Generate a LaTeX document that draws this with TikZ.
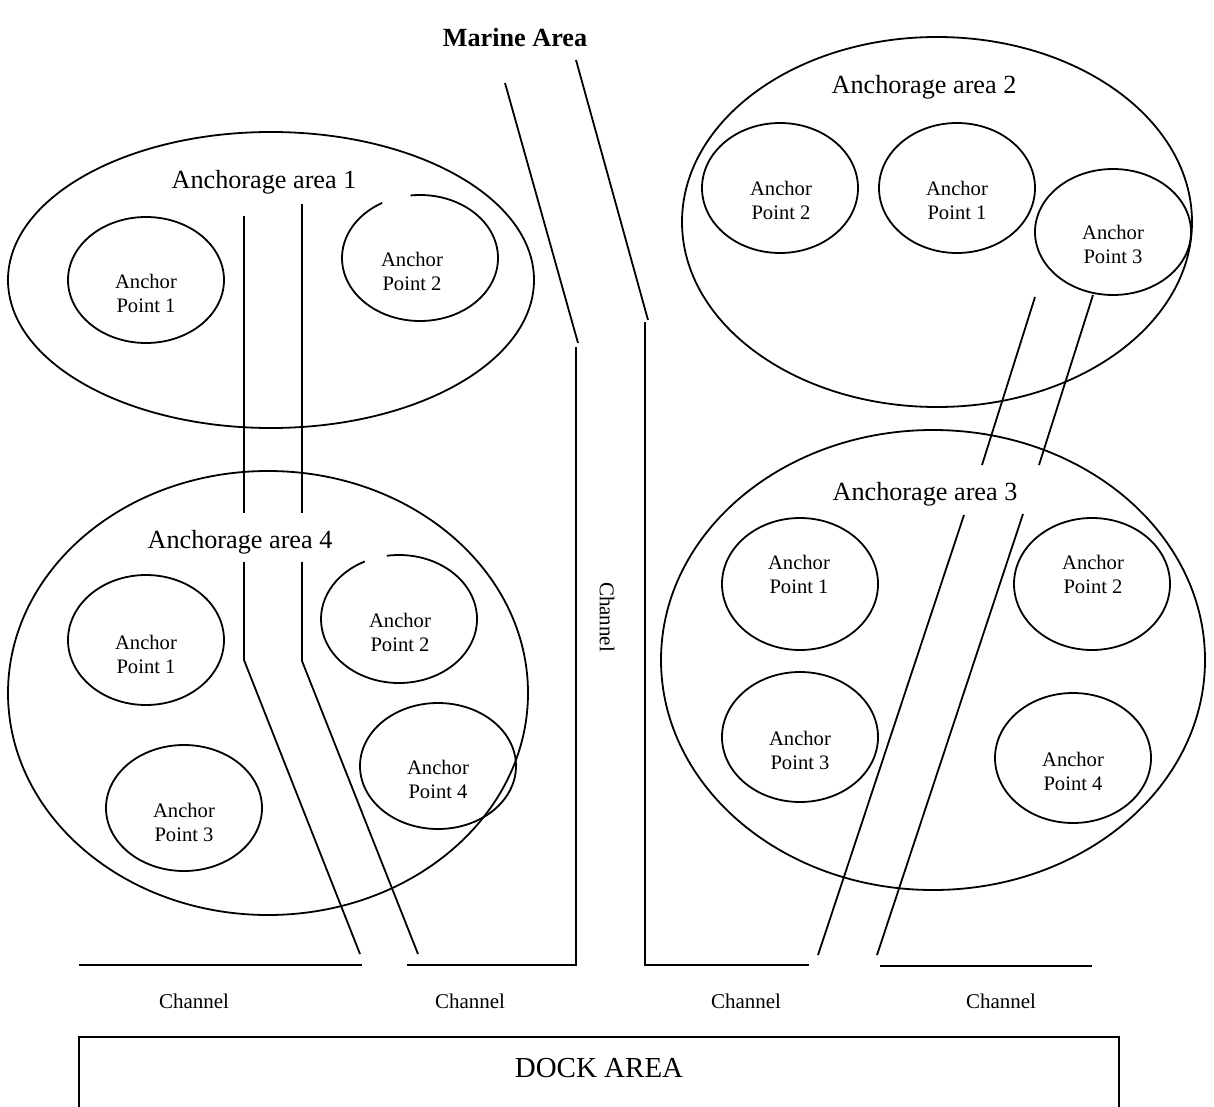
\documentclass[tikz,border=0pt]{standalone}
\usepackage{fontspec}
\setmainfont{Liberation Serif}
\usetikzlibrary{shapes.geometric,calc}

\begin{document}
\begin{tikzpicture}[x=0.5pt,y=-0.5pt,
  line width=0.9pt,
  area/.style={draw, ellipse, inner sep=0pt, outer sep=0pt},
  apt/.style={draw, ellipse, inner sep=0pt, outer sep=0pt, minimum width=78pt, minimum height=63pt},
  apttext/.style={align=center, font=\fontsize{10.3}{12}\selectfont, inner sep=0pt},
  areatext/.style={font=\fontsize{13.1}{15}\selectfont, anchor=base, inner sep=0pt},
  chantext/.style={font=\fontsize{10.5}{12}\selectfont, inner sep=0pt}
]
\useasboundingbox (0,0) rectangle (1214,1107);
\clip (0,0) rectangle (1214,1107);

% ---------- anchorage areas ----------
\node[area, minimum width=263pt, minimum height=148pt] (area1) at (271,280) {};
\node[area, minimum width=260pt, minimum height=222pt] (area4) at (268,693) {};
\node[area, minimum width=255pt, minimum height=185pt] (area2) at (937,222) {};
\node[area, minimum width=272pt, minimum height=230pt] (area3) at (933,660) {};

\node[font=\bfseries\fontsize{13.1}{15}\selectfont, anchor=base, inner sep=0pt] (marine) at (515,47) {Marine Area};
\node[areatext] (area1label) at (264,189) {Anchorage area 1};
\node[areatext] (area2label) at (924,94) {Anchorage area 2};
\node[areatext] (area3label) at (925,500) {Anchorage area 3};
\node[areatext] (area4label) at (240,548) {Anchorage area 4};

% ---------- anchor points, area 1 ----------
\node[apt] (a1p1) at (146,280) {};
\node[apttext] (a1p1t) at (146,293) {Anchor\\Point 1};
\node[apt, draw=none] (a1p2) at (420,258) {};
\draw ($(a1p2)+(263:78 and 63)$) arc[start angle=263, end angle=601, x radius=78, y radius=63];
\node[apttext] (a1p2t) at (412,271) {Anchor\\Point 2};

% ---------- anchor points, area 4 ----------
\node[apt, minimum height=65pt] (a4p1) at (146,640) {};
\node[apttext] (a4p1t) at (146,654) {Anchor\\Point 1};
\node[apt, draw=none, minimum height=64pt] (a4p2) at (399,619) {};
\draw ($(a4p2)+(261:78 and 64)$) arc[start angle=261, end angle=604, x radius=78, y radius=64];
\node[apttext] (a4p2t) at (400,632) {Anchor\\Point 2};
\node[apt] (a4p3) at (184,808) {};
\node[apttext] (a4p3t) at (184,822) {Anchor\\Point 3};
\node[apt] (a4p4) at (438,766) {};
\node[apttext] (a4p4t) at (438,779) {Anchor\\Point 4};

% ---------- anchor points, area 2 ----------
\node[apt, minimum height=65pt] (a2p2) at (780,188) {};
\node[apttext] (a2p2t) at (781,200) {Anchor\\Point 2};
\node[apt, minimum height=65pt] (a2p1) at (957,188) {};
\node[apttext] (a2p1t) at (957,200) {Anchor\\Point 1};
\node[apt] (a2p3) at (1113,232) {};
\node[apttext] (a2p3t) at (1113,244) {Anchor\\Point 3};

% ---------- anchor points, area 3 ----------
\node[apt, minimum height=66pt] (a3p1) at (800,584) {};
\node[apttext] (a3p1t) at (799,574) {Anchor\\Point 1};
\node[apt, minimum height=66pt] (a3p2) at (1092,584) {};
\node[apttext] (a3p2t) at (1093,574) {Anchor\\Point 2};
\node[apt, minimum height=65pt] (a3p3) at (800,737) {};
\node[apttext] (a3p3t) at (800,750) {Anchor\\Point 3};
\node[apt, minimum height=65pt] (a3p4) at (1073,758) {};
\node[apttext] (a3p4t) at (1073,771) {Anchor\\Point 4};

% ---------- fairways through the anchorages ----------
\coordinate (l1a) at (244,216); \coordinate (l1b) at (244,513);
\coordinate (r1a) at (302,204); \coordinate (r1b) at (302,513);
\coordinate (l4a) at (244,562); \coordinate (l4b) at (244,660); \coordinate (l4c) at (360,954);
\coordinate (r4a) at (302,562); \coordinate (r4b) at (302,661); \coordinate (r4c) at (418,954);
\coordinate (l2a) at (1035,297); \coordinate (l2b) at (982,465);
\coordinate (r2a) at (1093,295); \coordinate (r2b) at (1039,465);
\coordinate (l3a) at (964,515); \coordinate (l3b) at (818,955);
\coordinate (r3a) at (1023,514); \coordinate (r3b) at (877,955);

\draw (l1a) -- (l1b);
\draw (r1a) -- (r1b);
\draw (l4a) -- (l4b) -- (l4c);
\draw (r4a) -- (r4b) -- (r4c);
\draw (l2a) -- (l2b);
\draw (r2a) -- (r2b);
\draw (l3a) -- (l3b);
\draw (r3a) -- (r3b);

% ---------- main channel and channel edges ----------
\coordinate (c1a) at (79,965);  \coordinate (c1b) at (362,965);
\coordinate (c2a) at (407,965); \coordinate (c2b) at (576,965); \coordinate (c2c) at (576,347);
\coordinate (s1a) at (505,83);  \coordinate (s1b) at (578,343);
\coordinate (c3a) at (645,322); \coordinate (c3b) at (645,965); \coordinate (c3c) at (809,965);
\coordinate (s2a) at (576,60);  \coordinate (s2b) at (648,320);
\coordinate (c4a) at (880,966); \coordinate (c4b) at (1092,966);

\draw (c1a) -- (c1b);
\draw (c2a) -- (c2b) -- (c2c);
\draw (s1a) -- (s1b);
\draw (c3a) -- (c3b) -- (c3c);
\draw (s2a) -- (s2b);
\draw (c4a) -- (c4b);

\node[chantext, rotate=-90] (chanv) at (607,617) {Channel};
\node[chantext] (chan1) at (194,1001) {Channel};
\node[chantext] (chan2) at (470,1001) {Channel};
\node[chantext] (chan3) at (746,1001) {Channel};
\node[chantext] (chan4) at (1001,1001) {Channel};

% ---------- dock ----------
\node[draw, rectangle, inner sep=0pt, outer sep=0pt, minimum width=520pt, minimum height=45pt] (dock) at (599,1082) {};
\node[font=\fontsize{14.5}{16}\selectfont, inner sep=0pt] (docklabel) at (599,1068) {DOCK AREA};
\end{tikzpicture}
\end{document}
